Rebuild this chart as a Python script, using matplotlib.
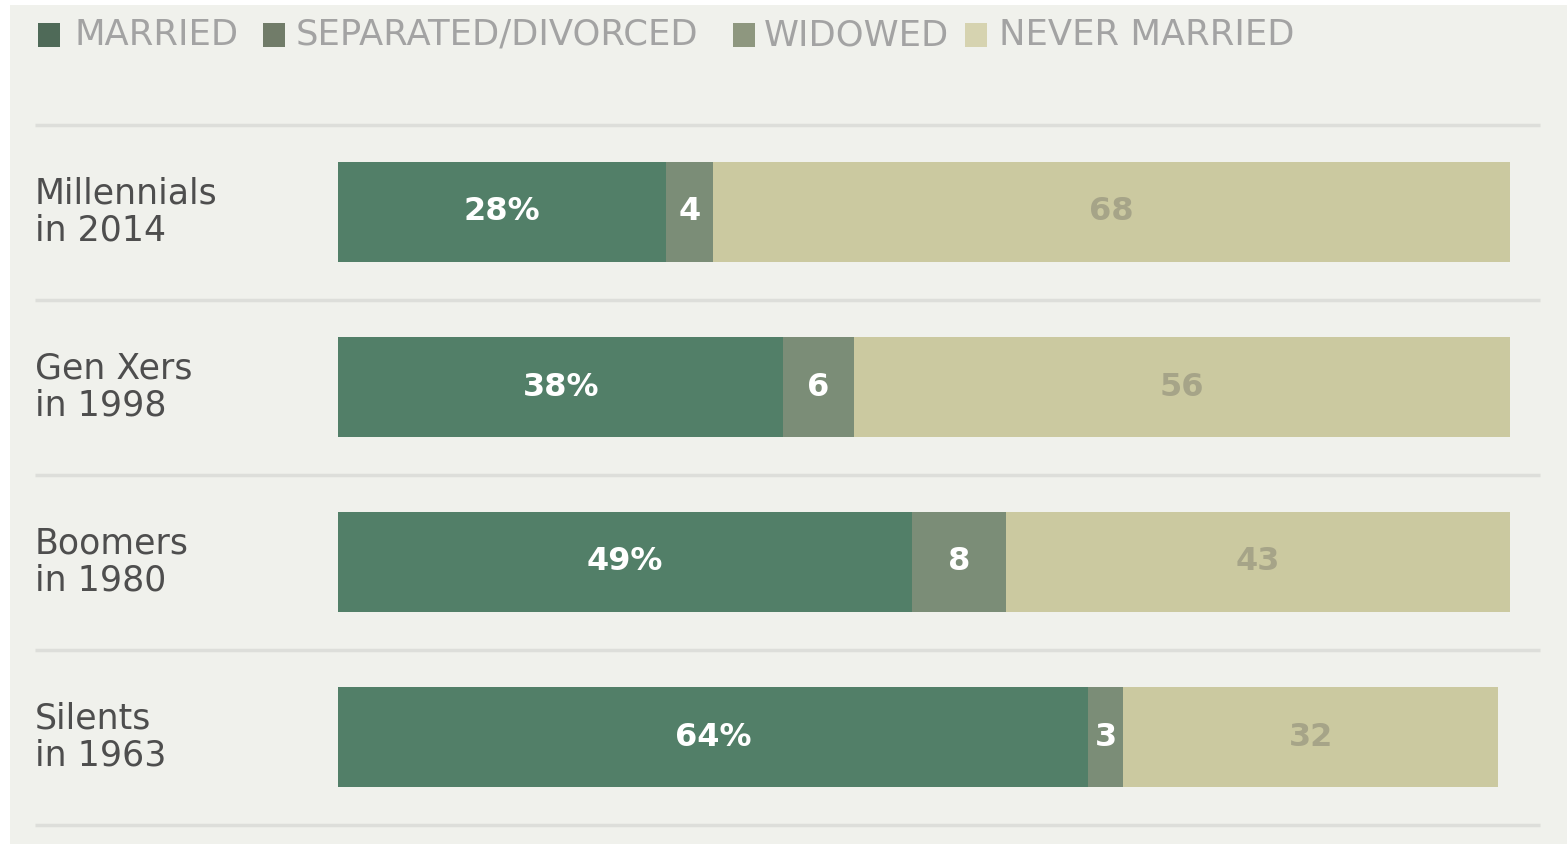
import matplotlib
matplotlib.use("Agg")
import matplotlib.pyplot as plt
from matplotlib.patches import Rectangle
from matplotlib.transforms import blended_transform_factory

# Marital status by generation at ages 18-33 (percent)
groups = ["Millennials\nin 2014", "Gen Xers\nin 1998", "Boomers\nin 1980", "Silents\nin 1963"]
married = [28, 38, 49, 64]
separated_divorced = [4, 6, 8, 3]
widowed = [0, 0, 0, 0]
never_married = [68, 56, 43, 32]
series_names = ["MARRIED", "SEPARATED/DIVORCED", "WIDOWED", "NEVER MARRIED"]

colors = ["#527f68", "#7b8d77", "#939b84", "#cbc9a0"]
legend_colors = ["#4f6a58", "#717c69", "#8e977f", "#d6d3b0"]
label_colors = ["white", "white", "white", "#a6a488"]

W, H = 1567, 844
fig = plt.figure(figsize=(W / 100, H / 100), dpi=100)
fig.patch.set_facecolor("white")

# panel background
fig.add_artist(Rectangle((10 / W, 0), 1 - 10 / W, 1 - 5 / H, transform=fig.transFigure,
                         facecolor="#f0f1ec", edgecolor="none", zorder=0))

ax = fig.add_axes([338 / W, 1 - 824.5 / H, (1510 - 338) / W, 700 / H])
ax.set_facecolor("none")
ax.set_xlim(0, 100)
ax.set_ylim(3.5, -0.5)
ax.axis("off")

series = [married, separated_divorced, widowed, never_married]
ypos = list(range(len(groups)))
bar_h = 0.566
left = [0] * len(groups)
for k, vals in enumerate(series):
    ax.barh(ypos, vals, left=left, height=bar_h, color=colors[k], edgecolor="none")
    for i, v in enumerate(vals):
        if v > 0:
            txt = f"{v}%" if k == 0 else f"{v}"
            ax.text(left[i] + v / 2, ypos[i], txt, ha="center", va="center",
                    fontsize=23, fontweight="bold",
                    color=label_colors[k])
    left = [l + v for l, v in zip(left, vals)]

# row separators and row labels
tr = blended_transform_factory(fig.transFigure, ax.transData)
for y in [-0.5, 0.5, 1.5, 2.5, 3.5]:
    ax.plot([35 / W, 1540 / W], [y, y], transform=tr, color="#dddeda", lw=2.5,
            clip_on=False, solid_capstyle="butt")
for i, g in enumerate(groups):
    ax.text(35 / W, ypos[i], g, transform=tr, ha="left", va="center",
            fontsize=25, color="#4e4e4e", linespacing=1.1)

# legend row
sq_x = [38, 263, 733, 965]
tx_x = [74, 296, 764, 999]
for k, name in enumerate(series_names):
    fig.add_artist(Rectangle((sq_x[k] / W, 1 - 47 / H), 22 / W, 24 / H,
                             transform=fig.transFigure, facecolor=legend_colors[k],
                             edgecolor="none"))
    fig.text(tx_x[k] / W, 1 - 35 / H, name, ha="left", va="center",
             fontsize=25.5, color="#a3a3a3", family="DejaVu Sans")

fig.savefig("out.png", dpi=100, facecolor=fig.get_facecolor())
